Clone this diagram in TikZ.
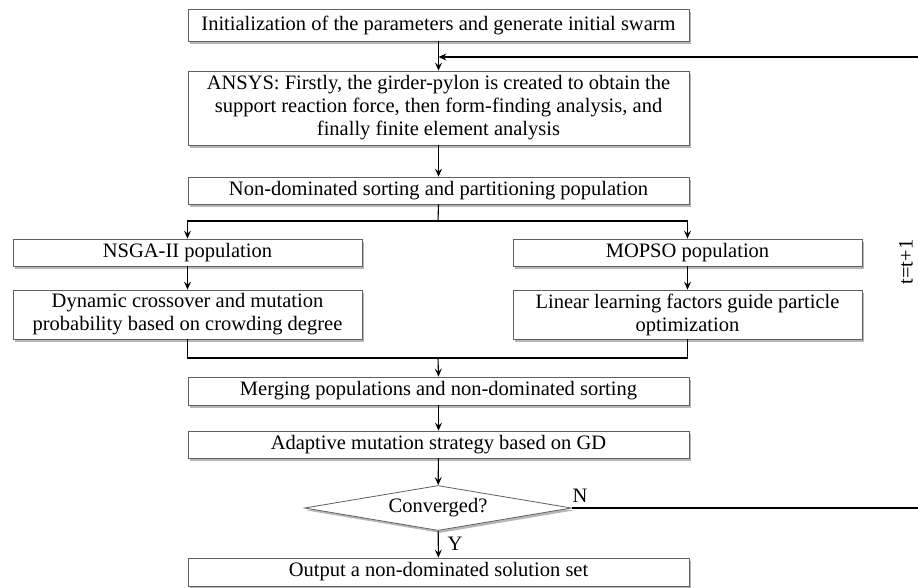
\documentclass[tikz,border=0pt]{standalone}
\usepackage{fontspec}
\setmainfont{Liberation Serif}
\usetikzlibrary{arrows.meta,shapes.geometric,shadows,calc}
\begin{document}
\begin{tikzpicture}[x=1pt,y=-1pt,
  box/.style={draw=gray!75!black, line width=0.8pt, fill=white,
    drop shadow={shadow xshift=2pt,shadow yshift=-2.5pt,fill=gray!80,opacity=0.7},
    inner sep=0pt, font=\fontsize{20.5}{23}\selectfont, align=center},
  wide/.style={box, minimum width=501pt},
  half/.style={box, minimum width=349pt},
  dec/.style={box, shape=diamond, minimum width=267pt, minimum height=45pt, aspect=6},
  conn/.style={draw=black, line width=1.1pt},
  arr/.style={conn, -{Stealth[length=8pt,width=7pt,inset=3pt]}},
  lbl/.style={font=\fontsize{20.5}{22}\selectfont, inner sep=0pt}]
\useasboundingbox (0,0) rectangle (918,587);

\node[wide, minimum height=32pt] (b1) at (438.5,25) {Initialization of the parameters and generate initial swarm};
\node[wide, minimum height=74pt] (b2) at (438.5,108) {ANSYS: Firstly, the girder-pylon is created to obtain the\\support reaction force, then form-finding analysis, and\\finally finite element analysis};
\node[wide, minimum height=27pt] (b3) at (438.5,190.5) {Non-dominated sorting and partitioning population};
\node[half, minimum height=27pt] (nsga) at (187.5,252.5) {NSGA-II population};
\node[half, minimum height=27pt] (mopso) at (687.5,252.5) {MOPSO population};
\node[half, minimum height=49pt] (dyn) at (187.5,314.5) {Dynamic crossover and mutation\\probability based on crowding degree};
\node[half, minimum height=49pt] (lin) at (687.5,314.5) {Linear learning factors guide particle\\optimization};
\node[wide, minimum height=28pt] (merge) at (438.5,391) {Merging populations and non-dominated sorting};
\node[wide, minimum height=27pt] (adapt) at (438.5,444.5) {Adaptive mutation strategy based on GD};
\node[dec] (conv) at (438,508) {Converged?};
\node[wide, minimum height=28pt] (out) at (438.5,572) {Output a non-dominated solution set};

\node[lbl] (ylab) at (455,544) {Y};
\node[lbl] (nlab) at (580,496) {N};
\node[lbl, rotate=90] (tlab) at (906,262) {t=t+1};

\coordinate (sp) at (438,221);
\coordinate (mg) at (438,358);
\coordinate (lp1) at (919,508);
\coordinate (lp2) at (919,57);

\draw[arr] (b1) -- (b2);
\draw[arr] (b2) -- (b3);
\draw[conn] (b3.south) -- (sp);
\draw[arr] (sp) -| (nsga.north);
\draw[arr] (sp) -| (mopso.north);
\draw[arr] (nsga) -- (dyn);
\draw[arr] (mopso) -- (lin);
\draw[conn] (dyn.south) |- (mg) -| (lin.south);
\draw[arr] (mg) -- (merge.north);
\draw[arr] (merge) -- (adapt);
\draw[arr] (adapt) -- (conv);
\draw[arr] (conv) -- (out);
\draw[arr] (conv.east) -- (lp1) -- (lp2) -- (b1.south |- lp2);
\end{tikzpicture}
\end{document}
